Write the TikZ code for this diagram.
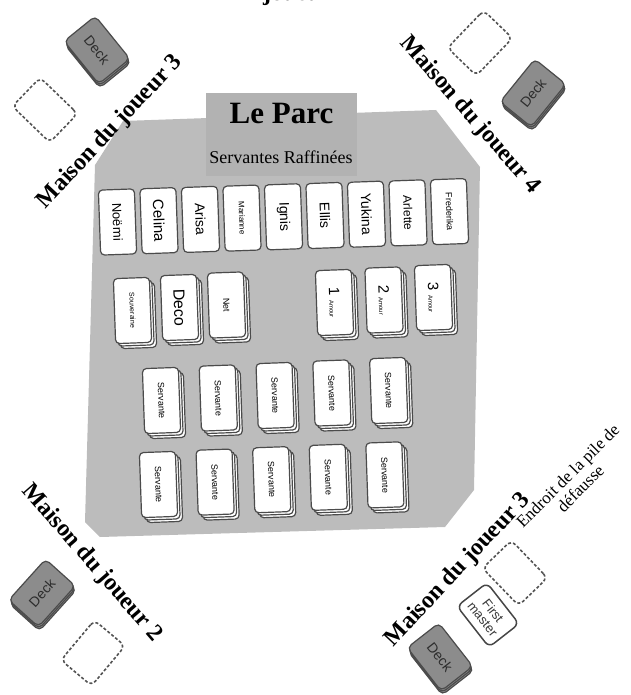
\documentclass[tikz,border=0pt]{standalone}
\usepackage{fontspec}
\setmainfont{Liberation Serif}
\setsansfont{Liberation Sans}
\usetikzlibrary{shadows}

\definecolor{parkgrey}{RGB}{188,188,188}
\definecolor{titlegrey}{RGB}{178,178,178}
\definecolor{deckgrey}{RGB}{140,140,140}
\definecolor{edgegrey}{RGB}{75,75,75}

\begin{document}
\begin{tikzpicture}[x=1pt, y=-1pt,
  card/.style={draw=edgegrey, line width=1.2pt, fill=white, rounded corners=4pt,
    minimum width=65pt, minimum height=36pt, inner sep=1pt, rotate=-88,
    font=\fontsize{13}{13}\sffamily},
  pile/.style={card, double copy shadow={shadow xshift=2.5pt, shadow yshift=-2.5pt}},
  deck/.style={draw=edgegrey, line width=1.2pt, fill=deckgrey, rounded corners=5pt,
    minimum width=55pt, minimum height=40pt, text=gray!35!black,
    font=\fontsize{14}{14}\sffamily,
    double copy shadow={shadow xshift=0.5pt, shadow yshift=-2pt}},
  slot/.style={draw=gray!65!black, line width=1.6pt, densely dashed, rounded corners=6pt,
    minimum width=52pt, minimum height=40pt},
  house/.style={font=\fontsize{24}{24}\selectfont\bfseries}]
\useasboundingbox (0,0) rectangle (630,695);

% le parc
\fill[parkgrey] (123,121) -- (436,110) -- (480,167) -- (474,490) -- (445,527)
  -- (100,537) -- (85,522) -- (95,165) -- cycle;
\node[fill=titlegrey, minimum width=151pt, minimum height=83pt, anchor=north west] (cadre) at (206,93) {};
\node[font=\fontsize{31}{31}\selectfont\bfseries] (titre) at (281.5,114) {Le Parc};
\node[font=\fontsize{18}{18}\selectfont] (soustitre) at (281,157) {Servantes Raffinées};

% servantes privees
\foreach \nom/\taille [count=\i from 0] in {Noëmi/13,Celina/15,Arisa/14,Marianne/8,Ignis/14,Ellis/14,Yukina/14,Arlette/12,Frederika/9}
  \node[card, font=\fontsize{\taille}{\taille}\sffamily] (m\i) at (117.5+41.5*\i, 222-1.3*\i) {\nom};

% piles
\node[pile, font=\fontsize{7}{7}\sffamily] (souv) at (132.5,310.5) {Souveraine};
\node[pile, font=\fontsize{16}{16}\sffamily] (deco) at (179.5,307.5) {Deco};
\node[pile, font=\fontsize{9}{9}\sffamily] (net) at (226.5,305) {Net};
\foreach \n [count=\i from 0] in {1,2,3}
  \node[pile, font=\fontsize{15}{15}\sffamily] (amour\n) at (334.5+49.5*\i, 302.5-2.5*\i) {\n\ {\fontsize{6}{6}\selectfont Amour}};
\foreach \i in {0,...,4} {
  \node[pile, font=\fontsize{9}{9}\sffamily] (s\i) at (161.5+56.8*\i, 400.5-2.5*\i) {Servante};
  \node[pile, font=\fontsize{9}{9}\sffamily] (t\i) at (158.5+56.6*\i, 484.5-2.4*\i) {Servante};
}

% maisons
\node[house, anchor=base] (j1) at (306,1) {joueur 1};

\node[house, rotate=47] (j3a) at (110,132) {Maison du joueur 3};
\node[deck, rotate=-51] (deck3a) at (97,50) {Deck};
\node[slot, rotate=-44] (slot3a) at (45,110) {};

\node[house, rotate=-49] (j4) at (470,115) {Maison du joueur 4};
\node[deck, rotate=51] (deck4) at (533,93) {Deck};
\node[slot, rotate=46] (slot4) at (480,43) {};

\node[house, rotate=-49] (j2) at (92,563) {Maison du joueur 2};
\node[deck, rotate=48] (deck2) at (42,593) {Deck};
\node[slot, rotate=50] (slot2) at (93,653) {};

\node[house, rotate=47] (j3b) at (458,570) {Maison du joueur 3};
\node[deck, rotate=-52] (deck3b) at (440,657) {Deck};
\node[draw=gray!55!black, line width=1.5pt, fill=white, rounded corners=6pt, minimum width=52pt,
  minimum height=38pt, align=center, text=gray!45!black, font=\fontsize{13}{13}\sffamily,
  rotate=-52] (first) at (488,615) {First\\master};
\node[slot, rotate=-46] (slot3b) at (515,573) {};
\node[font=\fontsize{17}{18}\selectfont, align=center, rotate=45] (defausse) at (574,482)
  {Endroit de la pile de\\défausse};
\end{tikzpicture}
\end{document}
